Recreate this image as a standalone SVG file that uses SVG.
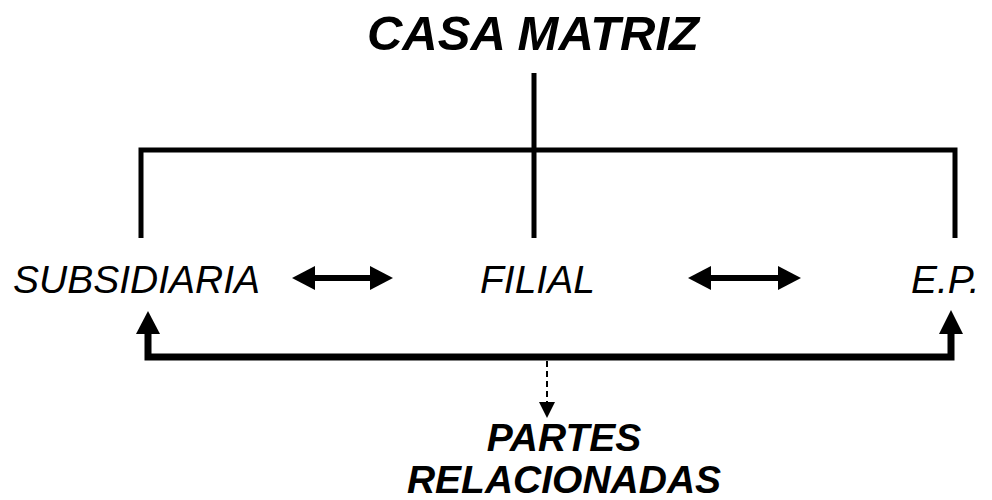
<svg xmlns="http://www.w3.org/2000/svg" width="992" height="500" viewBox="0 0 992 500">
<style>
.t{font-family:"Liberation Sans",Arial,sans-serif;font-style:italic;fill:#000}
.b{font-weight:bold}
.ln{stroke:#000;fill:none}
.hd{fill:#000}
</style>
<rect width="992" height="500" fill="#fff"/>
<g id="connectors">
  <line class="ln" x1="534" y1="73" x2="534" y2="238" stroke-width="5"/>
  <polyline class="ln" points="141,238 141,150 955,150 955,238" stroke-width="5"/>
  <polyline class="ln" points="148,332 148,357 951,357 951,332" stroke-width="7"/>
  <polygon class="hd" points="136,334 160,334 148,311"/>
  <polygon class="hd" points="939,334 963,334 951,310"/>
  <g id="arrow-left">
    <line class="ln" x1="312" y1="278" x2="373" y2="278" stroke-width="6"/>
    <polygon class="hd" points="292,278 315,266 315,290"/>
    <polygon class="hd" points="393,278 370,266 370,290"/>
  </g>
  <g id="arrow-right">
    <line class="ln" x1="708" y1="278" x2="781" y2="278" stroke-width="6"/>
    <polygon class="hd" points="688,278 711,266 711,290"/>
    <polygon class="hd" points="801,278 778,266 778,290"/>
  </g>
  <line class="ln" x1="547" y1="361" x2="547" y2="403" stroke-width="2" stroke-dasharray="6 4"/>
  <polygon class="hd" points="539,402 555,402 547,418"/>
</g>
<g id="casa-matriz"><text class="t b" x="533" y="50" font-size="49" text-anchor="middle">CASA MATRIZ</text></g>
<g id="subsidiaria"><text class="t" x="13" y="293" font-size="39">SUBSIDIARIA</text></g>
<g id="filial"><text class="t" x="480" y="293" font-size="39">FILIAL</text></g>
<g id="ep"><text class="t" x="911" y="293" font-size="39">E.P.</text></g>
<g id="partes"><text class="t b" x="564" y="451" font-size="39" text-anchor="middle">PARTES</text><text class="t b" x="564" y="493" font-size="39" text-anchor="middle">RELACIONADAS</text></g>
</svg>
